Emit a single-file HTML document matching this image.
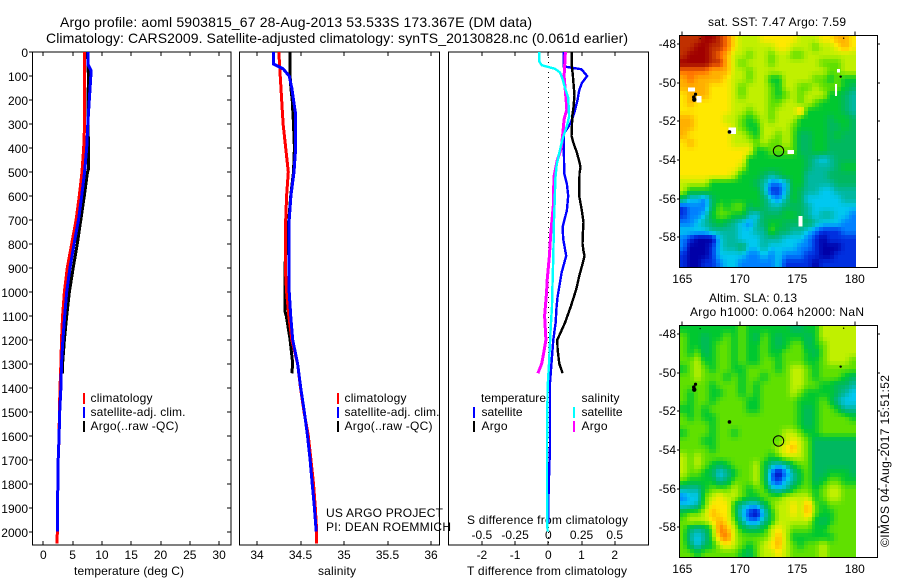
<!DOCTYPE html>
<html lang="en">
<head>
<meta charset="utf-8">
<title>Argo profile</title>
<style>
html,body{margin:0;padding:0;background:#fff;}
svg{display:block;}
text{font-family:"Liberation Sans",sans-serif;font-size:12px;fill:#000;}
.ttl{font-size:14px;}
</style>
</head>
<body>
<svg id="chart" xmlns="http://www.w3.org/2000/svg" width="900" height="580" viewBox="0 0 900 580">
  <rect width="900" height="580" fill="#fff"/>
  <text class="ttl" x="60" y="27" textLength="472">Argo profile: aoml 5903815_67 28-Aug-2013 53.533S 173.367E (DM data)</text>
  <text class="ttl" x="46" y="43" textLength="582">Climatology: CARS2009. Satellite-adjusted climatology: synTS_20130828.nc (0.061d earlier)</text>
  <text x="708" y="26" textLength="138">sat. SST: 7.47 Argo: 7.59</text>
  <text x="709" y="302" textLength="88">Altim. SLA: 0.13</text>
  <text x="690" y="316" textLength="174">Argo h1000: 0.064 h2000: NaN</text>
  <text transform="translate(889,547) rotate(-90)" textLength="172">©IMOS 04-Aug-2017 15:51:52</text>

  <text x="74" y="575" textLength="110">temperature (deg C)</text>
  <text x="318" y="575" textLength="38">salinity</text>
  <text x="467" y="575" textLength="160">T difference from climatology</text>
  <text x="467" y="524" textLength="161">S difference from climatology</text>
  <text x="326" y="517" textLength="117">US ARGO PROJECT</text>
  <text x="326" y="531" textLength="125">PI: DEAN ROEMMICH</text>

  <g>
    <rect x="83" y="393" width="2" height="11" fill="#f00"/>
    <rect x="83" y="407" width="2" height="11" fill="#00f"/>
    <rect x="83" y="421" width="2" height="11" fill="#000"/>
    <text x="90.500" y="402" textLength="62">climatology</text>
    <text x="90.500" y="416" textLength="95">satellite-adj. clim.</text>
    <text x="90.500" y="430" textLength="88">Argo(..raw -QC)</text>
  </g>
  <g>
    <rect x="337" y="393" width="2" height="11" fill="#f00"/>
    <rect x="337" y="407" width="2" height="11" fill="#00f"/>
    <rect x="337" y="421" width="2" height="11" fill="#000"/>
    <text x="344.500" y="402" textLength="62">climatology</text>
    <text x="344.500" y="416" textLength="95">satellite-adj. clim.</text>
    <text x="344.500" y="430" textLength="88">Argo(..raw -QC)</text>
  </g>
  <g>
    <text x="481" y="402" textLength="65">temperature</text>
    <rect x="473" y="407" width="2" height="11" fill="#00f"/>
    <rect x="473" y="421" width="2" height="11" fill="#000"/>
    <text x="481.500" y="416" textLength="41">satellite</text>
    <text x="481.500" y="430" textLength="26">Argo</text>
    <text x="581.500" y="402" textLength="38">salinity</text>
    <rect x="573" y="407" width="2" height="11" fill="#0ff"/>
    <rect x="573" y="421" width="2" height="11" fill="#f0f"/>
    <text x="581.500" y="416" textLength="41">satellite</text>
    <text x="581.500" y="430" textLength="26">Argo</text>
  </g>
</svg>
<script>
// ---- profile data ----
const depthTicks = [0,100,200,300,400,500,600,700,800,900,1000,1100,1200,1300,1400,1500,1600,1700,1800,1900,2000];
const tempTicks = [0,5,10,15,20,25,30];
const salTicks = [34,34.5,35,35.5,36];
const diffTTicks = [-2,-1,0,1,2];
const diffSTicks = [-0.5,-0.25,0,0.25,0.5];
const lonTicks = [165,170,175,180];
const latTicks = [48,50,52,54,56,58];

const climDepth = [0,300,400,500,600,700,800,900,1000,1100,1200,1300,1400,1500,1600,1700,1800,1900,2000,2050];
const tempClim = [7.0,7.05,6.9,6.6,6.15,5.6,4.85,4.1,3.6,3.3,3.1,3.0,2.85,2.75,2.7,2.55,2.5,2.4,2.4,2.3];
const salClim = [34.25,34.3,34.33,34.36,34.34,34.33,34.325,34.325,34.34,34.365,34.4,34.467,34.5,34.54,34.59,34.62,34.65,34.67,34.686,34.686];

const tempSatDepth = [0,50,75,100,200,300,400,500,600,700,800,900,1000,1100,1200,1300,1400,1500,1600,1700,1800,1900,2000];
const tempSat = [7.6,7.6,8.1,8.1,7.85,7.6,7.4,7.05,6.55,6,5.25,4.55,4,3.65,3.35,3.1,3,2.8,2.7,2.55,2.5,2.4,2.4];
const salSatDepth = [0,50,60,70,100,150,200,250,300,400,500,600,700,800,900,1000,1100,1200,1300,1400,1500,1600,1700,1800,1900,2000];
const salSat = [34.19,34.19,34.245,34.3,34.37,34.4,34.42,34.44,34.445,34.445,34.425,34.39,34.37,34.365,34.365,34.37,34.387,34.41,34.467,34.502,34.544,34.58,34.61,34.635,34.66,34.68];

const tempArgoDepth = [0,100,200,300,400,490,500,600,700,800,900,1000,1100,1200,1300,1340];
const tempArgo = [7.55,7.7,7.65,7.65,7.7,7.7,7.55,7,6.4,5.8,5.1,4.45,4,3.6,3.3,3.3];
const salArgoDepth = [0,100,150,200,300,400,500,600,700,800,900,1000,1080,1100,1200,1300,1340];
const salArgo = [34.38,34.38,34.39,34.405,34.42,34.43,34.42,34.387,34.365,34.34,34.32,34.32,34.32,34.337,34.38,34.41,34.4];

const dTSatDepth = [0,60,72,100,130,160,200,240,270,300,340,420,505,550,600,660,730,780,850,920,1020,1060,1130,1200,1325,1380,1645,1825,1965];
const dTSat = [0.47,0.46,1.0,1.17,1.01,0.93,0.88,0.81,0.74,0.66,0.47,0.47,0.48,0.56,0.6,0.56,0.43,0.45,0.54,0.4,0.28,0.25,0.22,0.15,0.08,0.05,0.05,0.01,0];
const dTArgoDepth = [0,60,100,130,180,230,270,320,350,380,420,460,480,505,600,660,710,760,800,830,850,880,930,990,1060,1130,1200,1240,1300,1340];
const dTArgo = [0.71,0.71,0.74,0.76,0.79,0.76,0.72,0.71,0.7,0.76,0.86,0.94,0.97,0.94,0.93,1.01,1.06,1.04,1.03,1.06,1.09,1.04,0.94,0.84,0.68,0.5,0.27,0.28,0.33,0.43];
const dSSatDepth = [0,40,55,70,85,110,150,190,270,310,360,420,470,530,600,700,850,1000,1060,1150,1300,1400,1640,1800,1965,2000];
const dSSat = [-0.068,-0.068,-0.05,0.05,0.088,0.106,0.126,0.15,0.157,0.139,0.109,0.083,0.063,0.053,0.05,0.043,0.038,0.03,0.028,0.018,0.005,-0.005,-0.01,-0.01,-0.008,-0.005];
const dSArgoDepth = [0,100,200,240,280,340,400,450,520,580,640,700,760,850,950,1000,1100,1200,1250,1300,1340];
const dSArgo = [0.129,0.119,0.134,0.139,0.119,0.109,0.098,0.068,0.043,0.04,0.038,0.028,0.018,0.008,-0.008,-0.013,-0.028,-0.018,-0.033,-0.05,-0.078];

// ---- map data: one character per cell, index into the colour scale ----
const colorScale = ['#0000a8','#0030e0','#0080ff','#00c8f0','#00b8a0','#00b860','#00c830','#60e000','#c0f000','#ffe800','#ffb000','#ff7000','#c03000','#a00000'];
const levelCodes = '0123456789abcd';
const sstRows = [
'cccddcb98889999988899aa9','ccddccb988888998887889a9','cdddcba88788788778888888','ddddcca87888788888877788',
'bbbbaaa88788888888887788','abaaaa988788668888776766','aaaa99987888768877877765','9aaa99987888767878886654',
'9a9999988888778878766654','9999999887887888a6666654','aa9999887678788866665665','aa9999987668888766665565',
'a99999988768878755665655','9a9999988878778755665555','999999999966777755665555','999999999666666665434555',
'999999998666666665444566','999999986665456664445555','888866666654223664444555','866666666664113654433444',
'533256666665324653333344','122257677565445554333333','122367766435556654344332','223456543245665555433322',
'333344443344755443211122','210003443334443332101111','200013445334333322100011','100013333223232221100111',
'100112332222231111011111'];
const slaRows = [
'666666667666666556688888','766566767657656665688888','766567767667656775678888','767567767667667776578888',
'778667767667767776678887','678767766777767887677777','778777676776777887677765','777767776767777887766554',
'767766776767777876666543','767767777667777766676433','667677777667777765677644','767667777777777765677776',
'777767777777777765677777','677767767777778876677777','777667777777778987555555','777767777777789a87555555',
'878777777777678887555555','878765677786434677555555','877653467786202467556665','766664577786213467567766',
'444677787677434677678877','233789887667778888678877','33479996433578898a767777','6778a996310368898a766777',
'78889a974224688888656777','75457ba86556898777667777','74347ab877778a8666666777','7535689876789a8767787777',
'776777776578898777787777'];
const gridLon0 = 164.74, gridLonStep = 0.64, gridLat0 = 47.55, gridLatStep = 0.4138;
// missing SST cells: west lon, east lon, north lat, south lat
const gapWest = [165.49,166.25,169.0,174.13,175.09,178.28,178.45];
const gapEast = [166.1,166.68,169.67,174.71,175.46,178.45,178.71];
const gapNorth = [50.26,50.69,52.31,53.48,56.9,50.07,49.29];
const gapSouth = [50.47,51.03,52.66,53.69,57.45,50.69,49.48];
// land specks: lon, lat, size
const landLon = [166.04,166.0,166.15,169.1,178.77,166.55,179.03];
const landLat = [50.88,50.75,50.6,52.55,49.69,47.72,47.7];
const landSize = [2.2,1.8,1.6,1.8,1.2,0.6,0.7];
const profileLon = 173.367;
const profileLat = 53.533;

// ---- layout + scales ----
const svg = document.getElementById('chart');
const NS = 'http://www.w3.org/2000/svg';
const plotTop = 52, plotBottom = 545;
const yDepth = d => plotTop + d * 0.2398;
const xTemp = v => 43.3 + v * 5.86;
const xSal = v => 257 + (v - 34) * 87;
const xDT = v => 548.3 + v * 33.2;
const xDS = v => 548.3 + v * 132.8;
const lonX = v => 682.3 + (v - 165) * 11.5;
const latOffset = [0, 290];
const latY = (v, m) => 44 + latOffset[m] + (v - 48) * 19.33;

function make(tag, attrs, parent) {
  const el = document.createElementNS(NS, tag);
  for (const k in attrs) el.setAttribute(k, attrs[k]);
  (parent || svg).appendChild(el);
  return el;
}
function drawFrame(x0, x1, y0, y1, name) {
  const el = make('rect', {x: x0, y: y0, width: x1 - x0, height: y1 - y0, fill: 'none', stroke: '#000', 'stroke-width': 1.4, 'shape-rendering': 'crispEdges'});
  
  
}
function drawTick(x1, y1, x2, y2) {
  const el = make('line', {x1, y1, x2, y2, stroke: '#000', 'stroke-width': 1, 'shape-rendering': 'crispEdges'});
  
  
}
function drawLabel(x, y, str, anchor) {
  const el = make('text', {x, y, 'text-anchor': anchor});
  el.textContent = str;
  
  
}
function drawSeries(depths, values, xFn, color, width, name) {
  const pts = depths.map((d, i) => xFn(values[i]).toFixed(1) + ',' + yDepth(d).toFixed(1)).join(' ');
  const el = make('polyline', {points: pts, fill: 'none', stroke: color, 'stroke-width': width, 'shape-rendering': 'crispEdges', 'stroke-linejoin': 'round'});
  
  
}

// ---- profile panels ----
function drawPanelTicks(x0, x1, ticks, xFn) {
  ticks.forEach(t => {
    const x = Math.round(xFn(t));
    drawTick(x, plotTop, x, plotTop + 4);
    drawTick(x, plotBottom, x, plotBottom - 4);
    drawLabel(xFn(t), 559, String(t), 'middle');
  });
}
drawFrame(32.5, 231, plotTop, plotBottom, 'temperature-panel-frame');
drawFrame(239.5, 439.5, plotTop, plotBottom, 'salinity-panel-frame');
drawFrame(448.5, 648.5, plotTop, plotBottom, 'difference-panel-frame');
drawPanelTicks(32.5, 231, tempTicks, xTemp);
drawPanelTicks(239.5, 439.5, salTicks, xSal);
drawPanelTicks(448.5, 648.5, diffTTicks, xDT);
depthTicks.forEach(d => {
  const y = Math.round(yDepth(d));
  drawTick(29, y, 32, y);
  drawTick(231, y, 227, y);
  drawLabel(28, y + 5, String(d), 'end');
});
diffSTicks.forEach(t => {
  const x = Math.round(xDS(t));
  drawTick(x, plotTop, x, plotTop + 4);
  drawLabel(xDS(t), 539, String(t), 'middle');
});

const zeroLine = make('line', {x1: 548.5, y1: plotTop, x2: 548.5, y2: plotBottom, stroke: '#000', 'stroke-width': 1, 'stroke-dasharray': '1 4'});



drawSeries(tempArgoDepth, tempArgo, xTemp, '#000', 3, 'temperature-argo-line');
drawSeries(climDepth, tempClim, xTemp, '#f00', 3, 'temperature-climatology-line');
drawSeries(tempSatDepth, tempSat, xTemp, '#00f', 3, 'temperature-satellite-line');
drawSeries(salArgoDepth, salArgo, xSal, '#000', 3, 'salinity-argo-line');
drawSeries(climDepth, salClim, xSal, '#f00', 3, 'salinity-climatology-line');
drawSeries(salSatDepth, salSat, xSal, '#00f', 3, 'salinity-satellite-line');
drawSeries(dTSatDepth, dTSat, xDT, '#00f', 2.4, 'difference-t-satellite-line');
drawSeries(dTArgoDepth, dTArgo, xDT, '#000', 2.4, 'difference-t-argo-line');
drawSeries(dSArgoDepth, dSArgo, xDS, '#f0f', 3, 'difference-s-argo-line');
drawSeries(dSSatDepth, dSSat, xDS, '#0ff', 2.4, 'difference-s-satellite-line');

// ---- maps ----
const scaleRGB = colorScale.map(h => [1, 3, 5].map(i => parseInt(h.slice(i, i + 2), 16)));
function levelColor(v) {
  const i = Math.min(Math.floor(v), scaleRGB.length - 2), f = v - i;
  const a = scaleRGB[i], b = scaleRGB[i + 1];
  return 'rgb(' + a.map((ch, k) => Math.round(ch + (b[k] - ch) * f)).join(',') + ')';
}
function sampleLevel(rows, r, c) {
  const nr = rows.length, nc = rows[0].length;
  const rr = Math.max(0, Math.min(nr - 1, r)), cc = Math.max(0, Math.min(nc - 1, c));
  const r0 = Math.floor(rr), c0 = Math.floor(cc);
  const r1 = Math.min(nr - 1, r0 + 1), c1 = Math.min(nc - 1, c0 + 1);
  const fr = rr - r0, fc = cc - c0;
  const at = (a, b) => levelCodes.indexOf(rows[a][b]);
  return (at(r0, c0) * (1 - fc) + at(r0, c1) * fc) * (1 - fr) + (at(r1, c0) * (1 - fc) + at(r1, c1) * fc) * fr;
}
const subCells = 2;
function drawMap(rows, m, name, withGaps) {
  const g = make('g', {'shape-rendering': 'crispEdges'});
  
  
  const nr = rows.length * subCells, nc = rows[0].length * subCells;
  for (let r = 0; r < nr; r++) {
    for (let c = 0; c < nc; c++) {
      const x0 = Math.round(lonX(gridLon0 + c / subCells * gridLonStep));
      const x1 = Math.round(lonX(gridLon0 + (c + 1) / subCells * gridLonStep));
      const y0 = Math.round(latY(gridLat0 + r / subCells * gridLatStep, m));
      const y1 = Math.round(latY(gridLat0 + (r + 1) / subCells * gridLatStep, m));
      const level = sampleLevel(rows, (r + 0.5) / subCells - 0.5, (c + 0.5) / subCells - 0.5);
      const cell = make('rect', {x: x0, y: y0, width: x1 - x0, height: y1 - y0, fill: levelColor(level)}, g);
      
      
    }
  }
  if (withGaps) {
    gapWest.forEach((w, i) => {
      const gap = make('rect', {x: lonX(w), y: latY(gapNorth[i], m), width: lonX(gapEast[i]) - lonX(w), height: latY(gapSouth[i], m) - latY(gapNorth[i], m), fill: '#fff'}, g);
      
      
    });
  }
  landLon.forEach((lon, i) => {
    const dot = make('circle', {cx: lonX(lon), cy: latY(landLat[i], m), r: landSize[i], fill: '#000'});
    
    
  });
  const marker = make('circle', {cx: lonX(profileLon), cy: latY(profileLat, m), r: 5.2, fill: 'none', stroke: '#000', 'stroke-width': 1});
  
  
  const top = latY(gridLat0, m), bottom = top + 231.7;
  drawFrame(679.5, 877.5, Math.round(top) + 0.5, Math.round(bottom) + 0.5, name + '-frame');
  lonTicks.forEach(t => {
    const x = Math.round(lonX(t));
    drawTick(x, top - 4, x, top);
    drawLabel(lonX(t), bottom + 16, String(t), 'middle');
  });
  latTicks.forEach(t => {
    const y = Math.round(latY(t, m));
    drawTick(677, y, 679, y);
    drawTick(877, y, 880, y);
    drawLabel(676, y + 4, '-' + t, 'end');
  });
}
drawMap(sstRows, 0, 'sst-map', true);
drawMap(slaRows, 1, 'sla-map', false);
</script>
</body>
</html>
